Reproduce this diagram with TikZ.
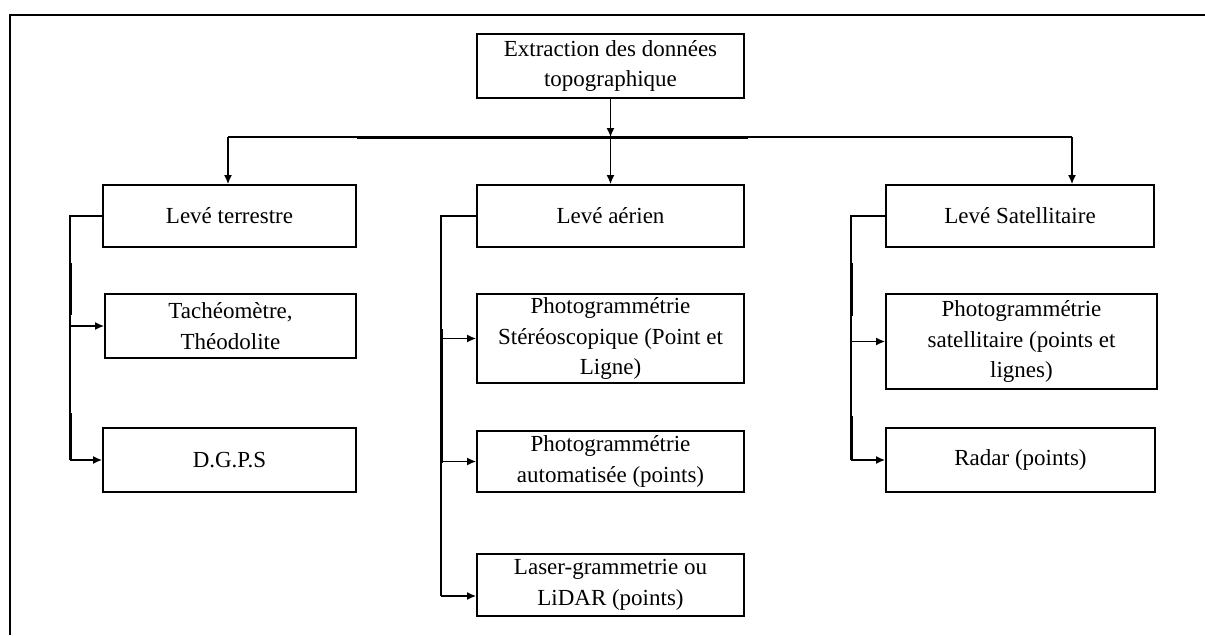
\documentclass[tikz,border=0pt]{standalone}
\usepackage{fontspec}
\setmainfont{Liberation Serif}
\usetikzlibrary{arrows.meta}
\tikzset{
  box/.style={draw, line width=1.8pt, inner sep=0pt, align=center,
    font=\fontsize{23}{30.5}\selectfont},
  conn/.style={line width=1.5pt},
  arr/.style={conn, -{Latex[length=9pt,width=8pt]}},
  heavy/.style={line width=3pt},
}
\begin{document}
\begin{tikzpicture}[x=1pt,y=-1pt]
\useasboundingbox (0,0) rectangle (1205,635);
% outer frame (open at right and bottom)
\draw[line width=2pt] (10,635) -- (10,15) -- (1205,15);

% nodes
\node[box, minimum width=267pt, minimum height=64pt] (top) at (610.5,66) {Extraction des données\\topographique};

\node[box, minimum width=253pt, minimum height=62pt] (lt) at (229.5,216) {Levé terrestre};
\node[box, minimum width=267pt, minimum height=62pt] (la) at (610.5,216) {Levé aérien};
\node[box, minimum width=268pt, minimum height=62pt] (ls) at (1020,216) {Levé Satellitaire};

\node[box, minimum width=251pt, minimum height=64pt] (tach) at (230.5,326) {Tachéomètre,\\Théodolite};
\node[box, minimum width=253pt, minimum height=64pt] (dgps) at (229.5,460) {D.G.P.S};

\node[box, minimum width=267pt, minimum height=89pt] (ph1) at (610.5,338.5) {Photogrammétrie\\Stéréoscopique (Point et\\Ligne)};
\node[box, minimum width=267pt, minimum height=61pt] (ph2) at (610.5,461.5) {Photogrammétrie\\automatisée (points)};
\node[box, minimum width=267pt, minimum height=62pt] (lid) at (610.5,585) {Laser-grammetrie ou\\LiDAR (points)};

\node[box, minimum width=271pt, minimum height=95pt] (psat) at (1021.5,341.5) {Photogrammétrie\\satellitaire (points et\\lignes)};
\node[box, minimum width=269pt, minimum height=64pt] (rad) at (1020.5,460) {Radar (points)};

% coordinates
\coordinate (hl) at (228,137);
\coordinate (hr) at (1072,137);
\coordinate (hm) at (610.5,137);
\coordinate (lv) at (70,216);
\coordinate (mv) at (441,216);
\coordinate (mvb) at (441,596);
\coordinate (rv) at (851,216);

% top distribution
\draw[arr] (top.south) -- (hm);
\draw[conn] (hl) -- (hr);
\draw[heavy] (357,137) -- (748,137);
\draw[arr] (hl) -- (hl |- lt.north);
\draw[arr] (hm) -- (la.north);
\draw[arr] (hr) -- (hr |- ls.north);

% left branch
\draw[conn] (lt.west) -- (lv) -- (lv |- dgps.west);
\draw[arr] (lv |- dgps.west) -- (dgps.west);
\draw[arr] (lv |- tach.west) -- (tach.west);
\draw[heavy] (70,263) -- (70,315);
\draw[heavy] (70,413) -- (70,460);

% middle branch
\draw[conn] (la.west) -- (mv) -- (mvb);
\draw[arr] (mv |- ph1.west) -- (ph1.west);
\draw[arr] (mv |- ph2.west) -- (ph2.west);
\draw[arr] (mvb) -- (mvb -| lid.west);
\draw[heavy] (441,329) -- (441,463);

% right branch
\draw[conn] (ls.west) -- (rv) -- (rv |- rad.west);
\draw[arr] (rv |- psat.west) -- (psat.west);
\draw[arr] (rv |- rad.west) -- (rad.west);
\draw[heavy] (851,263) -- (851,316);
\draw[heavy] (851,416) -- (851,460);
\end{tikzpicture}
\end{document}
